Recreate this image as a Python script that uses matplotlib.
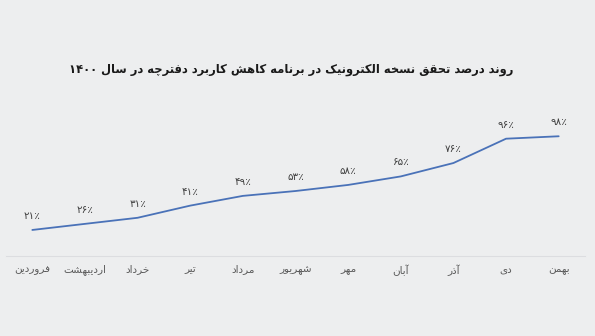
import matplotlib
matplotlib.use('Agg')
import matplotlib.pyplot as plt

# data
months = ['فروردین', 'اردیبهشت', 'خرداد', 'تیر', 'مرداد', 'شهریور',
          'مهر', 'آبان', 'آذر', 'دی', 'بهمن']
values = [21, 26, 31, 41, 49, 53, 58, 65, 76, 96, 98]
title = 'روند درصد تحقق نسخه الکترونیک در برنامه کاهش کاربرد دفترچه در سال ۱۴۰۰'

# presentation forms: (isolated, final, initial, medial); right-joining letters have 2
FORMS = {
    'ا': (0xFE8D, 0xFE8E), 'آ': (0xFE81, 0xFE82), 'د': (0xFEA9, 0xFEAA),
    'ذ': (0xFEAB, 0xFEAC), 'ر': (0xFEAD, 0xFEAE), 'ز': (0xFEAF, 0xFEB0),
    'ژ': (0xFB8A, 0xFB8B), 'و': (0xFEED, 0xFEEE),
    'ب': (0xFE8F, 0xFE90, 0xFE91, 0xFE92), 'ت': (0xFE95, 0xFE96, 0xFE97, 0xFE98),
    'ث': (0xFE99, 0xFE9A, 0xFE9B, 0xFE9C), 'ج': (0xFE9D, 0xFE9E, 0xFE9F, 0xFEA0),
    'ح': (0xFEA1, 0xFEA2, 0xFEA3, 0xFEA4), 'خ': (0xFEA5, 0xFEA6, 0xFEA7, 0xFEA8),
    'س': (0xFEB1, 0xFEB2, 0xFEB3, 0xFEB4), 'ش': (0xFEB5, 0xFEB6, 0xFEB7, 0xFEB8),
    'ص': (0xFEB9, 0xFEBA, 0xFEBB, 0xFEBC), 'ض': (0xFEBD, 0xFEBE, 0xFEBF, 0xFEC0),
    'ط': (0xFEC1, 0xFEC2, 0xFEC3, 0xFEC4), 'ظ': (0xFEC5, 0xFEC6, 0xFEC7, 0xFEC8),
    'ع': (0xFEC9, 0xFECA, 0xFECB, 0xFECC), 'غ': (0xFECD, 0xFECE, 0xFECF, 0xFED0),
    'ف': (0xFED1, 0xFED2, 0xFED3, 0xFED4), 'ق': (0xFED5, 0xFED6, 0xFED7, 0xFED8),
    'ک': (0xFB8E, 0xFB8F, 0xFB90, 0xFB91), 'گ': (0xFB92, 0xFB93, 0xFB94, 0xFB95),
    'ل': (0xFEDD, 0xFEDE, 0xFEDF, 0xFEE0), 'م': (0xFEE1, 0xFEE2, 0xFEE3, 0xFEE4),
    'ن': (0xFEE5, 0xFEE6, 0xFEE7, 0xFEE8), 'ه': (0xFEE9, 0xFEEA, 0xFEEB, 0xFEEC),
    'ی': (0xFBFC, 0xFBFD, 0xFBFE, 0xFBFF), 'پ': (0xFB56, 0xFB57, 0xFB58, 0xFB59),
    'چ': (0xFB7A, 0xFB7B, 0xFB7C, 0xFB7D),
}


def shape(text):
    """Join Persian letters and put them in visual (left to right) order."""
    out = []
    n = len(text)
    for i, ch in enumerate(text):
        f = FORMS.get(ch)
        if f is None:
            out.append(ch)
            continue
        prev = text[i - 1] if i > 0 else ''
        nxt = text[i + 1] if i + 1 < n else ''
        join_prev = prev in FORMS and len(FORMS[prev]) == 4
        join_next = len(f) == 4 and nxt in FORMS
        if join_prev and join_next:
            code = f[3]
        elif join_prev:
            code = f[1]
        elif join_next:
            code = f[2]
        else:
            code = f[0]
        out.append(chr(code))
    vis = ''.join(reversed(out))
    # digit runs stay left to right
    res, run = [], []
    for ch in vis:
        if '\u06f0' <= ch <= '\u06f9' or ch.isdigit():
            run.append(ch)
        else:
            res.extend(reversed(run))
            run = []
            res.append(ch)
    res.extend(reversed(run))
    return ''.join(res)


def fa_digits(num):
    return ''.join(chr(0x06F0 + int(d)) for d in str(num))


bg = '#edeeef'
fig = plt.figure(figsize=(5.95, 3.36), dpi=100, facecolor=bg)
ax = fig.add_axes([6 / 595, 1 - 255.5 / 336, 579 / 595, 146 / 336])
ax.set_facecolor(bg)

x = list(range(len(months)))
ax.plot(x, values, color='#4a72b8', linewidth=1.3, solid_capstyle='round')
for xi, v in zip(x, values):
    ax.annotate(fa_digits(v) + '٪', (xi, v), xytext=(0, 6.5), textcoords='offset points',
                ha='center', va='bottom', fontsize=7.5, color='#404040')

ax.set_xlim(-0.5, len(months) - 0.5)
ax.set_ylim(0, 120)
ax.set_xticks(x)
ax.set_xticklabels([shape(m) for m in months], fontsize=7.5, color='#595959')
ax.tick_params(axis='x', length=0, pad=6.5)
ax.set_yticks([])
for side in ['left', 'right', 'top']:
    ax.spines[side].set_visible(False)
ax.spines['bottom'].set_color('#dcdde0')
ax.spines['bottom'].set_linewidth(0.8)

fig.text(291 / 595, 1 - 70 / 336, shape(title), ha='center', va='center',
         fontsize=8.3, fontweight='bold', color='#1a1a1a')

fig.savefig('out.png', dpi=100, facecolor=bg)
